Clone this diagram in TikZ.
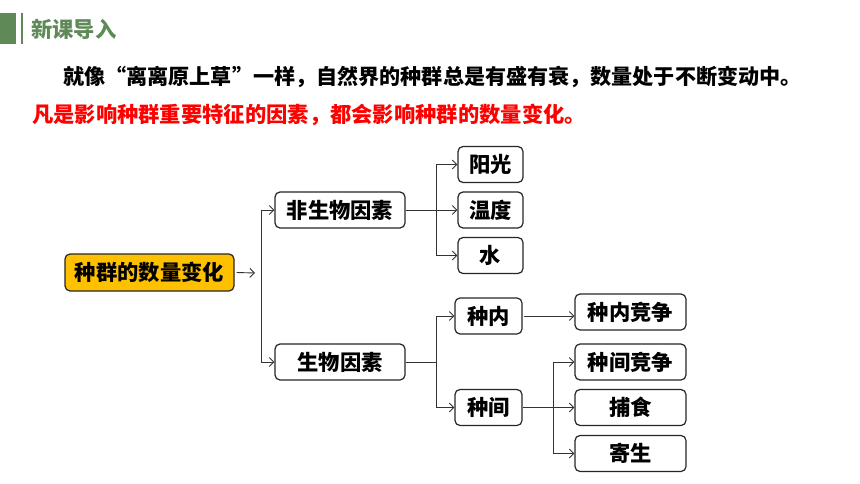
\documentclass[tikz,border=0pt]{standalone}
\usepackage{fontspec}
\setmainfont{Noto Sans CJK SC}
\usetikzlibrary{arrows.meta}
\definecolor{headgreen}{HTML}{5F8A58}
\definecolor{keyyellow}{HTML}{FFC000}

\begin{document}
\begin{tikzpicture}[x=1pt, y=-1pt, >={Straight Barb[length=4.5pt,width=9pt]},
  txt/.style={anchor=west, inner sep=0pt, font=\fontsize{21.3}{21.3}\selectfont\bfseries},
  box/.style={draw=black!85, line width=1.2pt, rounded corners=5pt, fill=white,
    minimum height=36pt, inner sep=0pt, font=\fontsize{21.3}{21.3}\selectfont\bfseries},
  link/.style={black!80, line width=0.9pt}]
\useasboundingbox (0,0) rectangle (860,484);
\fill[headgreen] (0,13) rectangle (16,44);
\fill[headgreen] (21,13) rectangle (23,44);
\node[txt, text=headgreen] (head) at (31,29) {新课导入};
\node[txt, font=\fontsize{21.1}{21.1}\selectfont\bfseries] (lineA) at (63,77) {就像“离离原上草”一样，自然界的种群总是有盛有衰，数量处于不断变动中。};
\node[txt, text=red] (lineB) at (32,115) {凡是影响种群重要特征的因素，都会影响种群的数量变化。};

\node[box, fill=keyyellow, minimum width=169pt, minimum height=37pt] (change) at (149.5,272.5) {种群的数量变化};
\node[box, minimum width=130pt] (abio) at (340,210) {非生物因素};
\node[box, minimum width=130pt] (bio) at (340,362) {生物因素};
\node[box, minimum width=65pt] (sun) at (490.5,164.5) {阳光};
\node[box, minimum width=65pt] (temp) at (490.5,210) {温度};
\node[box, minimum width=65pt] (water) at (490.5,255.5) {水};
\node[box, minimum width=67pt] (intra) at (488.5,316) {种内};
\node[box, minimum width=67pt] (inter) at (488.5,407.5) {种间};
\node[box, minimum width=111pt] (intracomp) at (630.5,312) {种内竞争};
\node[box, minimum width=111pt] (intercomp) at (630.5,362) {种间竞争};
\node[box, minimum width=111pt] (prey) at (630.5,407.5) {捕食};
\node[box, minimum width=111pt] (parasite) at (630.5,453.5) {寄生};

\coordinate (forkA) at (261,273);
\coordinate (forkB) at (436,210);
\coordinate (forkC) at (436,362);
\coordinate (forkD) at (553,407.5);
\coordinate (tipA) at (255,273);
\draw[link, ->] (change.east) ++(2,0) -- (tipA);
\draw[link, ->] (forkA) |- (abio.west);
\draw[link, ->] (forkA) |- (bio.west);
\draw[link, ->] (abio.east) -- (temp.west);
\draw[link, ->] (forkB) |- (sun.west);
\draw[link, ->] (forkB) |- (water.west);
\draw[link] (bio.east) -- (forkC);
\draw[link, ->] (forkC) |- (intra.west);
\draw[link, ->] (forkC) |- (inter.west);
\draw[link, ->] (intra.east) ++(1,0) -- (intra.east -| intracomp.west);
\draw[link, ->] (inter.east) -- (prey.west);
\draw[link, ->] (forkD) |- (intercomp.west);
\draw[link, ->] (forkD) |- (parasite.west);
\end{tikzpicture}
\end{document}
